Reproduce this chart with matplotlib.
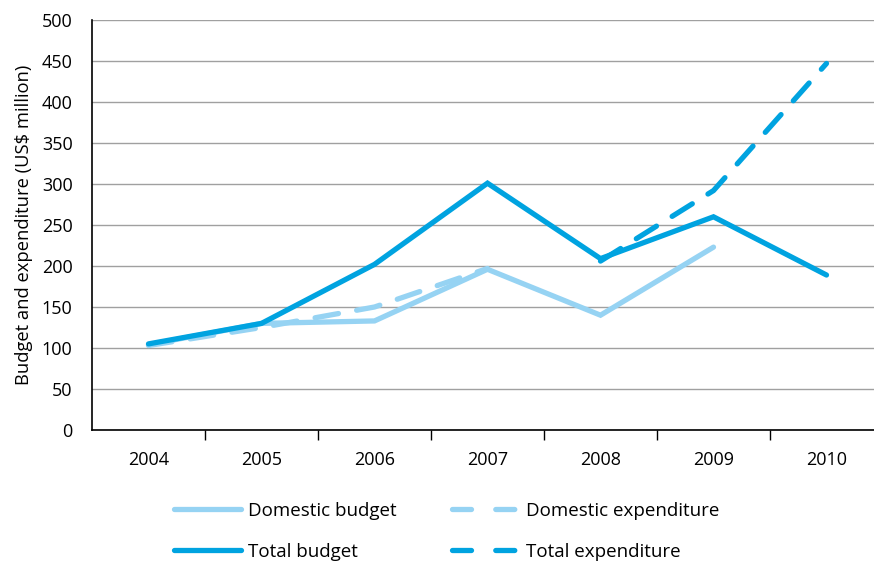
import matplotlib.pyplot as plt
from matplotlib.lines import Line2D
import numpy as np

plt.rcParams['font.family'] = ['Open Sans', 'DejaVu Sans']

years = ['2004', '2005', '2006', '2007', '2008', '2009', '2010']
domestic_budget = [104, 130, 133, 196, 140, 223]
domestic_expenditure = [103, 125, 150, 197]
total_budget = [105, 130, 202, 301, 209, 260, 189]
total_expenditure_years = ['2008', '2009', '2010']
total_expenditure = [206, 292, 447]

light = '#96d3f3'
dark = '#00a3e0'

fig = plt.figure(figsize=(8.74, 5.61), dpi=100)
ax = fig.add_axes([92 / 874, 1 - 430 / 561, 782 / 874, 410 / 561])

x = np.arange(len(years))
pos = {y: i for i, y in enumerate(years)}

lw = 3.8
dash = (4.5, 3.5)
ax.plot(x[:len(domestic_expenditure)], domestic_expenditure, color=light, lw=lw,
        linestyle=(0, dash), dash_capstyle='round', zorder=3)
ax.plot(x[:len(domestic_budget)], domestic_budget, color=light, lw=lw,
        solid_capstyle='round', solid_joinstyle='miter', zorder=3)
ax.plot([pos[y] for y in total_expenditure_years], total_expenditure, color=dark, lw=lw,
        linestyle=(0, dash), dash_capstyle='round', zorder=4)
ax.plot(x, total_budget, color=dark, lw=lw,
        solid_capstyle='round', solid_joinstyle='miter', zorder=4)

ax.set_xlim(-0.5, -0.5 + 782 / 113)
ax.set_ylim(0, 500)
ax.set_yticks(range(0, 501, 50))
ax.yaxis.grid(True, color='#a0a0a0', lw=1)
ax.set_axisbelow(True)
ax.tick_params(axis='y', length=0, pad=14, labelsize=13)
ax.set_xticks(x)
ax.set_xticklabels(years)
ax.tick_params(axis='x', which='major', length=0, pad=15, labelsize=13)
ax.set_xticks(np.arange(0.5, 6, 1), minor=True)
ax.tick_params(axis='x', which='minor', length=7, width=1, color='black', direction='out')
for s in ['top', 'right']:
    ax.spines[s].set_visible(False)
ax.spines['left'].set_linewidth(1.2)
ax.spines['bottom'].set_linewidth(1.2)
ax.set_ylabel('Budget and expenditure (US$ million)', fontsize=13.2, labelpad=6)

# legend handles: two dashes for the expenditure lines
leg_dash = (0, (3.6, 4.6))
handles = [
    Line2D([], [], color=light, lw=lw, solid_capstyle='round'),
    Line2D([], [], color=dark, lw=lw, solid_capstyle='round'),
    Line2D([], [], color=light, lw=lw, linestyle=leg_dash, dash_capstyle='round'),
    Line2D([], [], color=dark, lw=lw, linestyle=leg_dash, dash_capstyle='round'),
]
labels = ['Domestic budget', 'Total budget', 'Domestic expenditure', 'Total expenditure']
fig.legend(handles, labels, ncol=2, loc='lower left', bbox_to_anchor=(157 / 874, -0.03),
           frameon=False, fontsize=13.5, handlelength=3.6, handletextpad=0.35,
           columnspacing=2.95, labelspacing=1.25)

fig.savefig('out.png', dpi=100)
